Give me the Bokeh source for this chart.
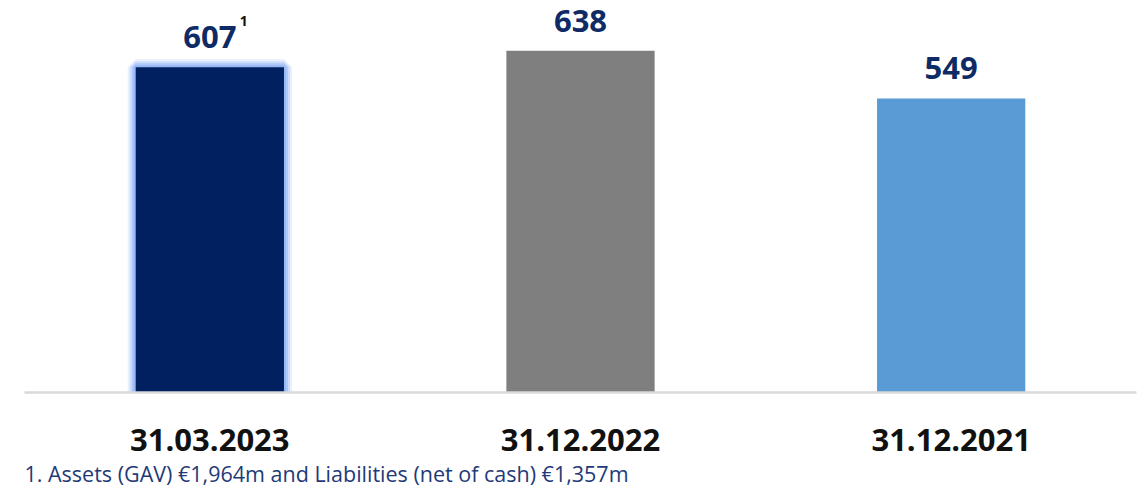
from bokeh.plotting import figure
from bokeh.models import ColumnDataSource, Range1d, Title
from bokeh.core.properties import value
from bokeh.embed import file_html
from bokeh.resources import INLINE

categories = ["31.03.2023", "31.12.2022", "31.12.2021"]
values = [607, 638, 549]
labels = ["607", "638", "549"]
colors = ["#002060", "#7F7F7F", "#5B9BD5"]
footnote = "1. Assets (GAV) \u20ac1,964m and Liabilities (net of cash) \u20ac1,357m"

src = ColumnDataSource(dict(cat=categories, val=values, lab=labels, col=colors))

p = figure(x_range=categories, y_range=Range1d(0, 731.7), width=1143, height=495,
           output_backend="svg", toolbar_location=None,
           min_border_left=24, min_border_right=7, min_border_top=0, min_border_bottom=103)
p.outline_line_color = None
p.xgrid.visible = False
p.ygrid.visible = False
p.yaxis.visible = False
p.background_fill_color = "white"
p.border_fill_color = "white"

# glow around first bar
first = ColumnDataSource(dict(cat=categories[:1], val=values[:1]))
for lw, a in [(16, 0.2), (12, 0.3), (8, 0.5), (4, 0.7)]:
    p.vbar(x="cat", top="val", width=0.4, source=first, fill_color=None,
           line_color="#8DB4F7", line_width=lw, line_alpha=a)

p.vbar(x="cat", top="val", width=0.4, source=src, fill_color="col", line_color=None)

p.text(x="cat", y="val", text="lab", source=src, text_align="center", text_baseline="bottom",
       y_offset=-19, text_font=value("Open Sans"), text_font_style="bold",
       text_font_size="31px", text_color="#0F2B66")

sup = ColumnDataSource(dict(cat=categories[:1], val=values[:1], t=["1"]))
p.text(x="cat", y="val", text="t", source=sup, text_align="center", text_baseline="bottom",
       x_offset=34, y_offset=-41, text_font=value("Open Sans"), text_font_style="bold",
       text_font_size="14px", text_color="#111111")

ax = p.xaxis[0]
ax.axis_line_color = "#D9D9D9"
ax.axis_line_width = 2.5
ax.major_tick_line_color = None
ax.minor_tick_line_color = None
ax.major_label_text_font = "Open Sans"
ax.major_label_text_font_style = "bold"
ax.major_label_text_font_size = "31px"
ax.major_label_text_color = "#111111"
ax.major_label_standoff = 30

t = Title(text=footnote, align="left", text_font="Open Sans", text_font_style="normal",
          text_font_size="21.5px", text_color="#1F3A78", standoff=6)
p.add_layout(t, "below")

open("out.html", "w").write(file_html(p, INLINE))
